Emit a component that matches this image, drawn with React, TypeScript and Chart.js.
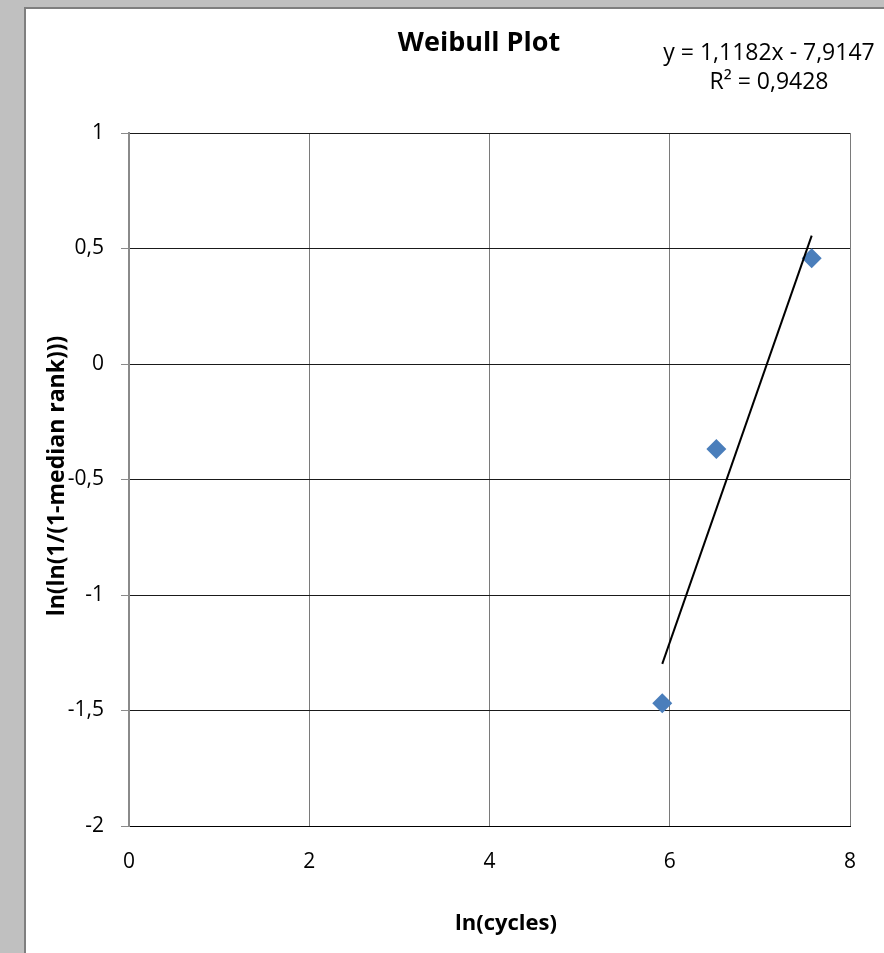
import { useEffect, useRef } from 'react';
import { Chart, registerables } from 'chart.js';

Chart.register(...registerables);

const chartTitle = 'Weibull Plot';
const xAxisTitle = 'ln(cycles)';
const yAxisTitle = 'ln(ln(1/(1-median rank)))';

const lnCycles = [5.917, 6.517, 7.575];
const lnLnMedianRank = [-1.469, -0.368, 0.458];

const trendSlope = 1.1182;
const trendIntercept = -7.9147;
const rSquared = 0.9428;

const xTickValues = [0, 2, 4, 6, 8];
const yTickValues = [1, 0.5, 0, -0.5, -1, -1.5, -2];

const FONT = '"Open Sans", "Liberation Sans", sans-serif';

const comma = (v: number) => String(v).replace('.', ',');

export default function App() {
  const canvasRef = useRef<HTMLCanvasElement | null>(null);

  useEffect(() => {
    const canvas = canvasRef.current;
    if (!canvas) return;

    const points = lnCycles.map((x, i) => ({ x, y: lnLnMedianRank[i] }));
    const xMin = Math.min(...lnCycles);
    const xMax = Math.max(...lnCycles);
    const trendPoints = [xMin, xMax].map((x) => ({ x, y: trendSlope * x + trendIntercept }));

    const line1 = `y = ${comma(trendSlope)}x ${trendIntercept < 0 ? '-' : '+'} ${comma(Math.abs(trendIntercept))}`;
    const line2 = `R² = ${comma(rSquared)}`;

    const textPlugin = {
      id: 'excelTexts',
      afterDraw(chart: any) {
        const ctx = chart.ctx as CanvasRenderingContext2D;
        ctx.save();
        ctx.fillStyle = '#000';
        ctx.textAlign = 'center';
        ctx.textBaseline = 'middle';

        ctx.font = `bold 27px ${FONT}`;
        ctx.fillText(chartTitle, 479, 43);

        ctx.font = `23px ${FONT}`;
        ctx.fillText(line1, 769, 53);
        ctx.fillText(line2, 769, 82);

        ctx.font = `bold 22px ${FONT}`;
        ctx.fillText(xAxisTitle, 506, 924);

        ctx.save();
        ctx.translate(57, 476);
        ctx.rotate(-Math.PI / 2);
        ctx.font = `bold 23px ${FONT}`;
        ctx.fillText(yAxisTitle, 0, 0);
        ctx.restore();

        ctx.restore();
      },
    };

    const chart = new Chart(canvas, {
      type: 'scatter',
      data: {
        datasets: [
          {
            label: 'Trend',
            data: trendPoints,
            showLine: true,
            borderColor: '#000000',
            borderWidth: 2,
            pointRadius: 0,
            order: 0,
          },
          {
            label: 'Data',
            data: points,
            pointStyle: 'rectRot',
            pointRadius: 10,
            backgroundColor: '#4A7EBB',
            borderColor: '#4A7EBB',
            borderWidth: 0,
            order: 1,
          },
        ],
      },
      options: {
        animation: false,
        responsive: false,
        maintainAspectRatio: false,
        events: [],
        layout: { padding: { left: 29, right: 34, top: 133, bottom: 67 } },
        plugins: {
          legend: { display: false },
          tooltip: { enabled: false },
          title: { display: false },
        },
        scales: {
          x: {
            type: 'linear',
            min: 0,
            max: 8,
            afterFit: (s: any) => {
              s.height = 60;
            },
            afterBuildTicks: (s: any) => {
              s.ticks = xTickValues.map((value) => ({ value }));
            },
            ticks: {
              stepSize: 2,
              color: '#000',
              padding: 23,
              font: { family: FONT, size: 21 },
            },
            grid: { color: '#7a7a7a', lineWidth: 1, drawTicks: false, tickLength: 0 },
            border: { color: '#000000', width: 1 },
          },
          y: {
            type: 'linear',
            min: -2,
            max: 1,
            afterFit: (s: any) => {
              s.width = 100;
            },
            afterBuildTicks: (s: any) => {
              s.ticks = yTickValues.map((value) => ({ value }));
            },
            ticks: {
              stepSize: 0.5,
              color: '#000',
              padding: 17,
              font: { family: FONT, size: 21 },
              callback: (v: any) => comma(Number(v)),
            },
            grid: { color: '#1a1a1a', lineWidth: 1, tickColor: '#8a8a8a', tickLength: 8, drawTicks: true },
            border: { color: '#8a8a8a', width: 2 },
          },
        },
      },
      plugins: [textPlugin],
    });

    return () => chart.destroy();
  }, []);

  return (
    <div
      style={{
        position: 'fixed',
        left: 0,
        top: 0,
        width: 884,
        height: 953,
        background: '#c0c0c0',
        overflow: 'hidden',
      }}
    >
      <div
        style={{
          position: 'absolute',
          left: 24,
          top: 7,
          width: 900,
          height: 960,
          background: '#ffffff',
          borderTop: '2px solid #7f7f7f',
          borderLeft: '2px solid #7f7f7f',
        }}
      />
      <canvas
        ref={canvasRef}
        width={884}
        height={953}
        style={{ position: 'absolute', left: 0, top: 0, width: 884, height: 953 }}
      />
    </div>
  );
}
